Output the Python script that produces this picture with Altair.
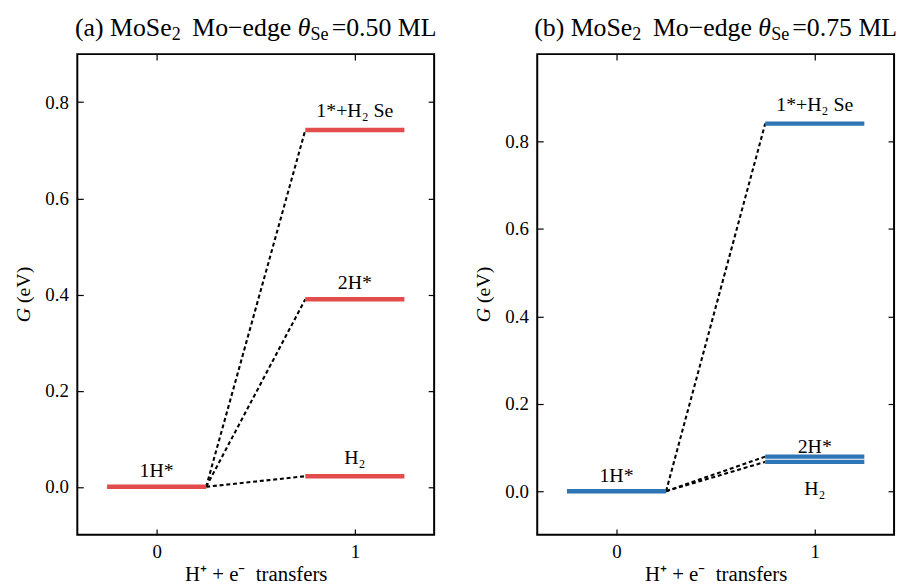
import altair as alt
import pandas as pd

FONT = "Liberation Serif"

# ---------------- data ----------------
panel_tags = ["(a)", "(b)"]
coverage_labels = ["0.50", "0.75"]
level_names = ["1H*", "1*+H₂ Se", "2H*", "H₂"]
level_states = [0, 1, 1, 1]
energies_a = [0.000, 0.742, 0.390, 0.022]
energies_b = [0.000, 0.841, 0.079, 0.067]
panel_energies = [energies_a, energies_b]
panel_colors = ["#E24C4C", "#2E75B6"]
y_upper = [0.9, 1.0]
y_lower = -0.1
x_domain = [-0.4, 1.4]
x_ticks = [0, 1]
y_ticks = [0.0, 0.2, 0.4, 0.6, 0.8]
x_title = "H⁺ + e⁻\u00a0 transfers"

# ---------------- layout / style ----------------
W, H = 360, 485
HALF = 0.25          # half width of an energy level bar (in x units)
TICK = 6             # inward tick length (px)
label_dy = [
    {"1H*": -10, "1*+H₂ Se": -13, "2H*": -10, "H₂": -12},
    {"1H*": -9, "1*+H₂ Se": -13, "2H*": -4, "H₂": 33},
]

# Times / Liberation Serif advance widths (per 1000 em)
ADV = {'(': 333, ')': 333, 'a': 444, 'b': 500, ' ': 250, 'M': 889, 'o': 500,
       'S': 556, 'e': 444, '2': 500, '−': 564, 'd': 500, 'g': 500, '=': 564,
       '0': 500, '.': 250, '5': 500, '7': 500, 'L': 611, 'θ': 500, 'G': 722,
       'V': 722}


def tw(s, size):
    return sum(ADV.get(c, 500) for c in s) / 1000.0 * size


def text_layer(txt, px, py, size, style="normal", angle=0):
    props = dict(font=FONT, fontSize=size, fontStyle=style, align="left",
                 baseline="alphabetic", color="black")
    if angle:
        props["angle"] = angle
    return alt.Chart(pd.DataFrame({"t": [txt]})).mark_text(**props).encode(
        text="t:N", x=alt.value(px), y=alt.value(py))


def title_layers(k):
    F = 26
    S = 0.7 * F
    parts = [
        (f"{panel_tags[k]} MoSe", F, "normal", 0, 0.0),
        ("2", S, "normal", 4, 0.45 * F),
        ("Mo−edge", F, "normal", 0, 0.25 * F),
        ("θ", F, "italic", 0, 0.0),
        ("Se", S, "normal", 4, 0.12 * F),
        (f"={coverage_labels[k]} ML", F, "normal", 0, 0.0),
    ]
    total = sum(tw(p[0], p[1]) + p[4] for p in parts)
    x = W / 2 - total / 2
    base_y = -18
    layers = []
    for txt, size, style, shift, gap in parts:
        layers.append(text_layer(txt, x, base_y + shift, size, style))
        x += tw(txt, size) + gap
    return layers


def ytitle_layers():
    F = 20
    total = tw("G (eV)", F)
    y0 = H / 2 + total / 2
    bx = -48
    return [
        text_layer("G", bx, y0, F, "italic", 270),
        text_layer("(eV)", bx, y0 - tw("G ", F), F, "normal", 270),
    ]


def panel(k):
    df = pd.DataFrame({"name": level_names, "state": level_states,
                       "G": panel_energies[k]})
    df["xa"] = df["state"] - HALF
    df["xb"] = df["state"] + HALF
    origin = df[df["state"] == 0].iloc[0]
    links = df[df["state"] == 1].copy()
    links["xs"] = origin["state"] + HALF
    links["ys"] = origin["G"]

    xs = alt.Scale(domain=x_domain, nice=False, zero=False)
    ys = alt.Scale(domain=[y_lower, y_upper[k]], nice=False, zero=False)

    links_layer = alt.Chart(links).mark_rule(
        strokeWidth=2.1, strokeDash=[4, 2.8], color="black").encode(
        x=alt.X("xs:Q", scale=xs, axis=alt.Axis(
            orient="top", values=x_ticks, offset=-TICK, tickSize=TICK,
            domain=False, labels=False, grid=False, title=None)),
        x2="xa:Q",
        y=alt.Y("ys:Q", scale=ys, axis=alt.Axis(
            orient="right", values=y_ticks, offset=-TICK, tickSize=TICK,
            domain=False, labels=False, grid=False, title=None)),
        y2="G:Q",
    )

    bars = alt.Chart(df).mark_rule(
        strokeWidth=4.5, color=panel_colors[k], strokeCap="butt").encode(
        x=alt.X("xa:Q", scale=xs, axis=alt.Axis(
            orient="bottom", values=x_ticks, format="d", offset=-TICK,
            tickSize=TICK, domain=False, grid=False, labelPadding=8,
            title=x_title, titlePadding=2)),
        x2="xb:Q",
        y=alt.Y("G:Q", scale=ys, axis=alt.Axis(
            orient="left", values=y_ticks, format=".1f", offset=-TICK,
            tickSize=TICK, domain=False, grid=False, labelPadding=9,
            title=None)),
    )

    label_layers = []
    for n in level_names:
        label_layers.append(
            alt.Chart(df[df["name"] == n]).mark_text(
                font=FONT, fontSize=20, baseline="alphabetic",
                align="center", dy=label_dy[k][n], color="black").encode(
                x=alt.X("state:Q", scale=xs, axis=None),
                y=alt.Y("G:Q", scale=ys, axis=None),
                text="name:N",
            )
        )

    layers = [links_layer, bars] + label_layers + title_layers(k) + ytitle_layers()
    return alt.layer(*layers).resolve_axis(x="independent", y="independent").properties(
        width=W, height=H)


chart = alt.hconcat(panel(0), panel(1), spacing=35).properties(
    padding={"left": 13, "top": 12, "right": 2, "bottom": 0}
).configure_view(
    stroke="black", strokeWidth=2
).configure_axis(
    labelFont=FONT, labelFontSize=19, labelColor="black",
    titleFont=FONT, titleFontSize=21, titleFontWeight="normal",
    titleColor="black", tickColor="black", tickWidth=1.2,
)

chart.save("out.html", embed_options={"renderer": "svg", "actions": False})
